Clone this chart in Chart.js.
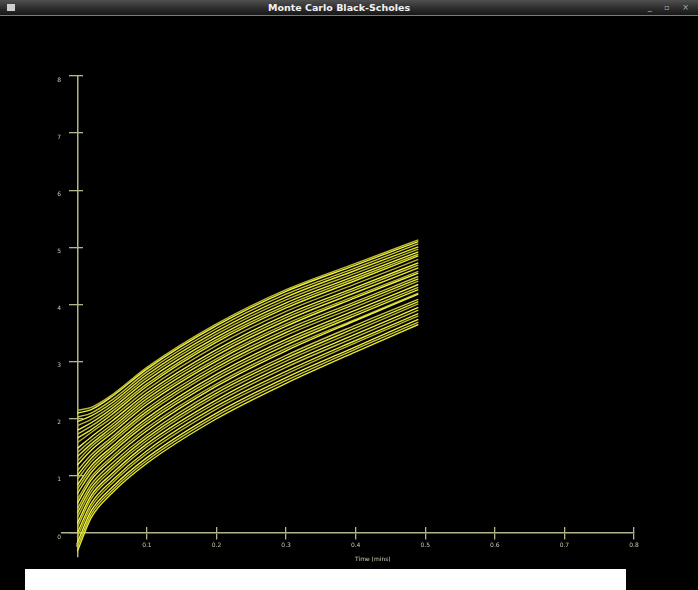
<!DOCTYPE html>
<html><head><meta charset="utf-8">
<script src="https://cdn.jsdelivr.net/npm/chart.js@4.4.1/dist/chart.umd.min.js"></script>
<style>
html,body{margin:0;padding:0;background:#000;width:698px;height:590px;overflow:hidden;}
#wrap{position:relative;width:698px;height:590px;background:#000;}
#c{position:absolute;left:0;top:0;}
#titlebar{position:absolute;left:0;top:0;width:698px;height:15px;background:linear-gradient(#505050,#2a2a2a 60%,#181818);border-bottom:1px solid #7a7a7a;}
#ttext{position:absolute;left:0;top:0;width:678px;text-align:center;font:bold 9.5px "DejaVu Sans",sans-serif;color:#f2f2f2;line-height:15px;}
#icon{position:absolute;left:7px;top:4px;width:8px;height:7px;background:#d0d0d0;}
#btns{position:absolute;right:4px;top:0;font:8px "DejaVu Sans",sans-serif;color:#aaa;letter-spacing:5px;line-height:15px;}
#xtitle{position:absolute;left:355px;top:555px;font:6px "DejaVu Sans",sans-serif;color:#d0d0b0;}
#bottom{position:absolute;left:25px;top:569px;width:601px;height:21px;background:#fff;}
</style></head>
<body><div id="wrap">
<canvas id="c" width="698" height="590"></canvas>
<div id="titlebar"><div id="ttext">Monte Carlo Black-Scholes</div></div>
<div id="icon"></div>
<div id="btns">_ ▫ ×</div>
<div id="xtitle">Time (mins)</div>
<div id="bottom"></div>
</div>
<script>
// time samples (mins)
const times = [0, 0.02, 0.05, 0.1, 0.2, 0.3, 0.4, 0.49];
// simulated price paths
const p01 = [-0.32, 0.27, 0.70, 1.22, 2.00, 2.62, 3.17, 3.65];
const p02 = [-0.25, 0.33, 0.75, 1.27, 2.05, 2.67, 3.22, 3.69];
const p03 = [-0.17, 0.39, 0.80, 1.32, 2.10, 2.72, 3.26, 3.74];
const p04 = [-0.07, 0.46, 0.87, 1.39, 2.17, 2.78, 3.33, 3.80];
const p05 = [0.00, 0.52, 0.92, 1.44, 2.22, 2.83, 3.37, 3.84];
const p06 = [0.10, 0.60, 0.99, 1.51, 2.28, 2.90, 3.43, 3.90];
const p07 = [0.17, 0.66, 1.04, 1.56, 2.33, 2.95, 3.48, 3.95];
const p08 = [0.27, 0.73, 1.11, 1.62, 2.40, 3.01, 3.54, 4.01];
const p09 = [0.35, 0.79, 1.16, 1.67, 2.45, 3.06, 3.59, 4.05];
const p10 = [0.42, 0.85, 1.22, 1.72, 2.50, 3.11, 3.64, 4.09];
const p11 = [0.52, 0.93, 1.29, 1.79, 2.57, 3.19, 3.72, 4.18];
const p12 = [0.59, 0.98, 1.34, 1.84, 2.61, 3.23, 3.74, 4.20];
const p13 = [0.69, 1.06, 1.41, 1.91, 2.68, 3.29, 3.81, 4.26];
const p14 = [0.77, 1.12, 1.46, 1.96, 2.73, 3.34, 3.85, 4.30];
const p15 = [0.84, 1.18, 1.51, 2.01, 2.78, 3.39, 3.90, 4.35];
const p16 = [0.94, 1.25, 1.58, 2.08, 2.85, 3.46, 3.96, 4.41];
const p17 = [1.01, 1.31, 1.63, 2.13, 2.90, 3.51, 4.01, 4.45];
const p18 = [1.09, 1.37, 1.68, 2.18, 2.95, 3.56, 4.05, 4.49];
const p19 = [1.19, 1.45, 1.75, 2.25, 3.01, 3.62, 4.12, 4.55];
const p20 = [1.26, 1.51, 1.80, 2.30, 3.05, 3.66, 4.15, 4.58];
const p21 = [1.34, 1.56, 1.85, 2.35, 3.11, 3.72, 4.21, 4.64];
const p22 = [1.41, 1.62, 1.90, 2.40, 3.16, 3.77, 4.26, 4.69];
const p23 = [1.48, 1.68, 1.96, 2.45, 3.21, 3.82, 4.30, 4.73];
const p24 = [1.58, 1.76, 2.02, 2.51, 3.28, 3.88, 4.36, 4.79];
const p25 = [1.66, 1.81, 2.08, 2.57, 3.34, 3.94, 4.42, 4.85];
const p26 = [1.73, 1.87, 2.13, 2.61, 3.38, 3.98, 4.46, 4.88];
const p27 = [1.80, 1.93, 2.18, 2.67, 3.43, 4.03, 4.50, 4.92];
const p28 = [1.88, 1.99, 2.23, 2.72, 3.48, 4.08, 4.55, 4.97];
const p29 = [1.95, 2.05, 2.28, 2.77, 3.53, 4.13, 4.60, 5.01];
const p30 = [2.03, 2.10, 2.33, 2.82, 3.58, 4.18, 4.64, 5.06];
const p31 = [2.10, 2.16, 2.39, 2.87, 3.63, 4.23, 4.69, 5.10];
const p32 = [2.15, 2.20, 2.42, 2.90, 3.66, 4.26, 4.72, 5.13];
// tick labels
const xTickVals = [0, 0.1, 0.2, 0.3, 0.4, 0.5, 0.6, 0.7, 0.8];
const xTickLabels = ['0', '0.1', '0.2', '0.3', '0.4', '0.5', '0.6', '0.7', '0.8'];
const yTickVals = [0, 1, 2, 3, 4, 5, 6, 7, 8];
const yTickLabels = ['0', '1', '2', '3', '4', '5', '6', '7', '8'];

const paths = [p01,p02,p03,p04,p05,p06,p07,p08,p09,p10,p11,p12,p13,p14,p15,p16,
               p17,p18,p19,p20,p21,p22,p23,p24,p25,p26,p27,p28,p29,p30,p31,p32];
const shades = ['#e8e82a', '#c9c93e', '#f2f236', '#b9b934'];
const datasets = paths.map((p, i) => ({
  data: times.map((t, j) => ({x: t, y: p[j]})),
  borderColor: shades[i % shades.length],
  borderWidth: 1.4,
  pointRadius: 0,
  fill: false,
  cubicInterpolationMode: 'monotone'
}));

const axisCol = '#b4b48c';
const lblFont = {family: 'DejaVu Sans', size: 6};
const setTicks = vals => s => { s.ticks = vals.map(v => ({value: v})); };

new Chart(document.getElementById('c'), {
  type: 'line',
  data: {datasets},
  options: {
    responsive: false, animation: false, devicePixelRatio: 1,
    layout: {padding: {left: 56.2, right: 64, top: 76, bottom: 33}},
    plugins: {legend: {display: false}, tooltip: {enabled: false}},
    scales: {
      x: {
        type: 'linear', min: -0.022, max: 0.8, position: {y: 0},
        afterBuildTicks: setTicks(xTickVals),
        grid: {drawOnChartArea: false, drawTicks: true, tickLength: 6, color: axisCol, lineWidth: 1.3},
        border: {display: true, color: axisCol, width: 1.5},
        ticks: {font: lblFont, color: '#c8c8b4', padding: 3, maxRotation: 0,
                callback: (v) => xTickLabels[xTickVals.indexOf(v)]}
      },
      x2: {
        type: 'linear', axis: 'x', min: -0.022, max: 0.8, position: {y: 0},
        afterBuildTicks: setTicks(xTickVals),
        grid: {drawOnChartArea: false, drawTicks: true, tickLength: -6, color: axisCol, lineWidth: 1.3},
        border: {display: false},
        ticks: {display: false}
      },
      y: {
        type: 'linear', min: -0.42, max: 8, position: {x: 0},
        afterBuildTicks: setTicks(yTickVals),
        grid: {drawOnChartArea: false, drawTicks: true, tickLength: 8, color: axisCol, lineWidth: 1.3},
        border: {display: true, color: axisCol, width: 1.5},
        ticks: {display: false}
      },
      y2: {
        type: 'linear', axis: 'y', min: -0.42, max: 8, position: {x: 0},
        afterBuildTicks: setTicks(yTickVals),
        grid: {drawOnChartArea: false, drawTicks: true, tickLength: -6, color: axisCol, lineWidth: 1.3},
        border: {display: false},
        ticks: {display: false}
      },
      yl: {
        type: 'linear', axis: 'y', min: -0.42, max: 8, position: 'left',
        afterBuildTicks: setTicks(yTickVals),
        grid: {display: false, drawTicks: false, drawOnChartArea: false},
        border: {display: false},
        ticks: {font: lblFont, color: '#c8c8b4', padding: 1, labelOffset: 4,
                callback: (v) => yTickLabels[yTickVals.indexOf(v)]}
      }
    }
  }
});
</script>
</body></html>
